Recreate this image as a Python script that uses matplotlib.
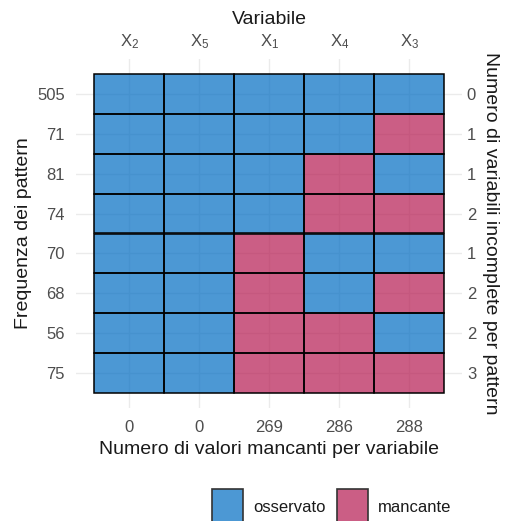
import matplotlib
matplotlib.use("Agg")
import matplotlib.pyplot as plt
from matplotlib.patches import Rectangle

plt.rcParams["font.family"] = ["Liberation Sans", "DejaVu Sans"]

# ── data ───────────────────────────────────────────────────────────────────
variables = ["X_2", "X_5", "X_1", "X_4", "X_3"]
missing_per_var = [0, 0, 269, 286, 288]
pattern_freq = [505, 71, 81, 74, 70, 68, 56, 75]
# 1 = osservato, 0 = mancante (one row per pattern, top to bottom)
patterns = [
    [1, 1, 1, 1, 1],
    [1, 1, 1, 1, 0],
    [1, 1, 1, 0, 1],
    [1, 1, 1, 0, 0],
    [1, 1, 0, 1, 1],
    [1, 1, 0, 1, 0],
    [1, 1, 0, 0, 1],
    [1, 1, 0, 0, 0],
]
incomplete_per_pattern = [0, 1, 1, 2, 1, 2, 2, 3]

COL_OBS = "#006CC2"
COL_MIS = "#B61A51"
ALPHA = 0.7
GRID = "#EBEBEB"
TICK_COL = "#4D4D4D"
TITLE_FS = 14
TICK_FS = 12

W, H = 506, 521
fig = plt.figure(figsize=(W / 100, H / 100), dpi=100)

# panel in pixel coords
px_l, px_r, px_t, px_b = 76, 462, 59, 408
ax = fig.add_axes([px_l / W, 1 - px_b / H, (px_r - px_l) / W, (px_b - px_t) / H])

n_var = len(variables)
n_pat = len(pattern_freq)
ax.set_xlim(0.5 - 0.26, n_var + 0.5 + 0.25)
ax.set_ylim(n_pat + 0.5 + 0.37, 0.5 - 0.37)

for i, row in enumerate(patterns):
    for j, obs in enumerate(row):
        ax.add_patch(Rectangle((j + 0.5, i + 0.5), 1, 1,
                               facecolor=COL_OBS if obs else COL_MIS,
                               alpha=ALPHA, edgecolor="none", zorder=2))
        ax.add_patch(Rectangle((j + 0.5, i + 0.5), 1, 1, facecolor="none",
                               edgecolor="black", linewidth=1.1, zorder=3))

xs = list(range(1, n_var + 1))
ys = list(range(1, n_pat + 1))

for s in ax.spines.values():
    s.set_visible(False)
ax.set_axisbelow(True)
ax.grid(True, color=GRID, linewidth=1.0)

# top: variable names
ax.set_xticks(xs)
ax.set_xticklabels([r"$\mathregular{%s}$" % v for v in variables])
ax.xaxis.tick_top()
ax.tick_params(axis="x", length=0, pad=6, labelsize=TICK_FS, labelcolor=TICK_COL)

# left: pattern frequencies
ax.set_yticks(ys)
ax.set_yticklabels([str(f) for f in pattern_freq])
ax.tick_params(axis="y", length=0, pad=8, labelsize=TICK_FS, labelcolor=TICK_COL)

# bottom: missing values per variable
sec_x = ax.secondary_xaxis("bottom")
sec_x.set_xticks(xs)
sec_x.set_xticklabels([str(m) for m in missing_per_var])
sec_x.tick_params(length=0, pad=8.5, labelsize=TICK_FS, labelcolor=TICK_COL)
for s in sec_x.spines.values():
    s.set_visible(False)

# right: incomplete variables per pattern
sec_y = ax.secondary_yaxis("right")
sec_y.set_yticks(ys)
sec_y.set_yticklabels([str(k) for k in incomplete_per_pattern])
sec_y.tick_params(length=0, pad=3.5, labelsize=TICK_FS, labelcolor=TICK_COL)
for s in sec_y.spines.values():
    s.set_visible(False)

# axis titles
fig.text(269 / W, 1 - 19 / H, "Variabile", ha="center", va="center",
         fontsize=TITLE_FS, color="#1A1A1A")
fig.text(269 / W, 1 - 449 / H, "Numero di valori mancanti per variabile",
         ha="center", va="center", fontsize=TITLE_FS, color="#1A1A1A")
fig.text(24 / W, 1 - 233 / H, "Frequenza dei pattern", ha="center",
         va="center", rotation=90, fontsize=TITLE_FS, color="#1A1A1A")
fig.text(490 / W, 1 - 233 / H, "Numero di variabili incomplete per pattern",
         ha="center", va="center", rotation=270, fontsize=TITLE_FS,
         color="#1A1A1A")

# legend (keys run off the bottom edge as in the original)
legend = [(212, COL_OBS, "osservato"), (337, COL_MIS, "mancante")]
for x0, col, lab in legend:
    fig.patches.append(Rectangle((x0 / W, 1 - 525 / H), 31 / W, 36 / H,
                                 transform=fig.transFigure, facecolor=col,
                                 alpha=ALPHA, edgecolor="none"))
    fig.patches.append(Rectangle((x0 / W, 1 - 525 / H), 31 / W, 36 / H,
                                 transform=fig.transFigure, facecolor="none",
                                 edgecolor="#333333", linewidth=1.2))
    fig.text((x0 + 41) / W, 1 - 507 / H, lab, ha="left", va="center",
             fontsize=TICK_FS, color="#1A1A1A")

fig.savefig("out.png", dpi=100)
